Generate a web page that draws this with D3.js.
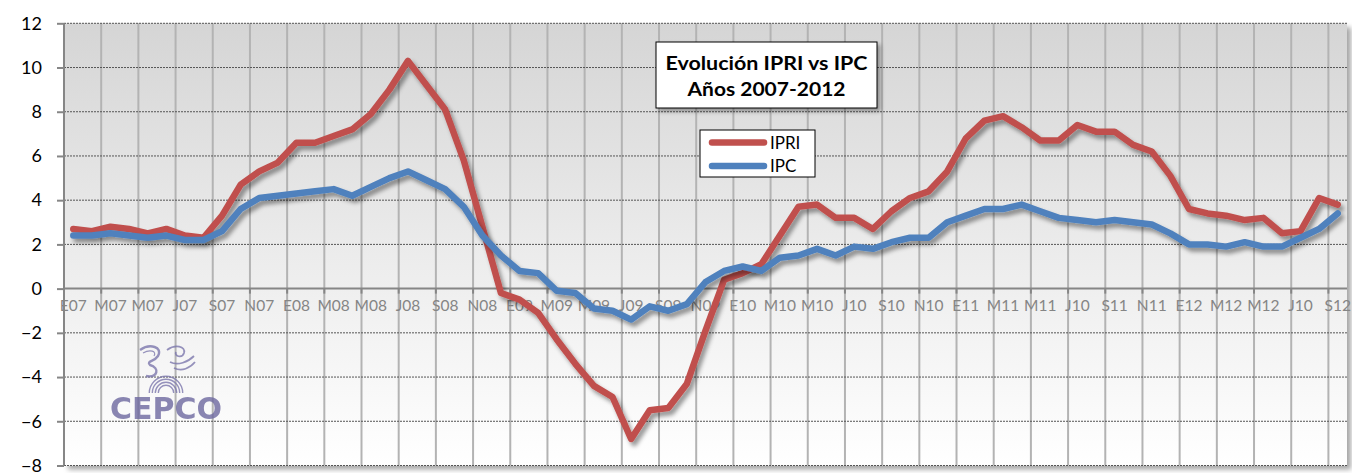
<!DOCTYPE html>
<html>
<head>
<meta charset="utf-8">
<script src="https://cdn.jsdelivr.net/npm/d3@7"></script>
<style>
  html, body { margin: 0; padding: 0; background: #fff; }
  svg { display: block; font-family: Lato, "Open Sans", sans-serif; }
</style>
</head>
<body>
<div class="chart"></div>
<script>
// monthly series, Jan 2007 .. Sep 2012 (69 months)
const ipri = [2.7, 2.6, 2.8, 2.7, 2.5, 2.7, 2.4, 2.3, 3.3, 4.7, 5.3, 5.7,
              6.6, 6.6, 6.9, 7.2, 7.9, 9.0, 10.3, 9.2, 8.1, 5.8, 2.8, -0.2,
              -0.5, -1.1, -2.3, -3.4, -4.4, -4.9, -6.8, -5.5, -5.4, -4.3, -1.9, 0.4,
              0.7, 1.1, 2.4, 3.7, 3.8, 3.2, 3.2, 2.7, 3.5, 4.1, 4.4, 5.3,
              6.8, 7.6, 7.8, 7.3, 6.7, 6.7, 7.4, 7.1, 7.1, 6.5, 6.2, 5.1,
              3.6, 3.4, 3.3, 3.1, 3.2, 2.5, 2.6, 4.1, 3.8];
const ipc = [2.4, 2.4, 2.5, 2.4, 2.3, 2.4, 2.2, 2.2, 2.6, 3.6, 4.1, 4.2,
             4.3, 4.4, 4.5, 4.2, 4.6, 5.0, 5.3, 4.9, 4.5, 3.7, 2.4, 1.5,
             0.8, 0.7, -0.1, -0.2, -0.9, -1.0, -1.4, -0.8, -1.0, -0.7, 0.3, 0.8,
             1.0, 0.8, 1.4, 1.5, 1.8, 1.5, 1.9, 1.8, 2.1, 2.3, 2.3, 3.0,
             3.3, 3.6, 3.6, 3.8, 3.5, 3.2, 3.1, 3.0, 3.1, 3.0, 2.9, 2.5,
             2.0, 2.0, 1.9, 2.1, 1.9, 1.9, 2.3, 2.7, 3.4];
// one label every two months (as printed on the original)
const tickLabels = ["E07", "M07", "M07", "J07", "S07", "N07",
                    "E08", "M08", "M08", "J08", "S08", "N08",
                    "E09", "M09", "M09", "J09", "S09", "N09",
                    "E10", "M10", "M10", "J10", "S10", "N10",
                    "E11", "M11", "M11", "J10", "S11", "N11",
                    "E12", "M12", "M12", "J10", "S12"];
const yTicks = [-8, -6, -4, -2, 0, 2, 4, 6, 8, 10, 12];
const seriesNames = ["IPRI", "IPC"];
const colors = ["#c0504d", "#4f81bd"];

const W = 1352, H = 473;
const pLeft = 64, pRight = 1347, pTop = 23.3, pBottom = 465.5;

const svg = d3.select(".chart").append("svg")
    .attr("width", W).attr("height", H);

const defs = svg.append("defs");
const grad = defs.append("linearGradient").attr("id", "bg")
    .attr("x1", 0).attr("y1", 0).attr("x2", 0).attr("y2", 1);
grad.append("stop").attr("offset", "0%").attr("stop-color", "#d5d5d5");
grad.append("stop").attr("offset", "55%").attr("stop-color", "#ededed");
grad.append("stop").attr("offset", "100%").attr("stop-color", "#ffffff");

const shadow = (id, dx, dy, sd, op) => {
    defs.append("filter").attr("id", id)
        .attr("x", "-10%").attr("y", "-10%").attr("width", "130%").attr("height", "130%")
        .append("feDropShadow")
        .attr("dx", dx).attr("dy", dy).attr("stdDeviation", sd)
        .attr("flood-color", "#000").attr("flood-opacity", op);
};
shadow("plotShadow", 4, 4, 2.5, 0.35);
shadow("lineShadow", 3, 4, 2.2, 0.4);
shadow("boxShadow", 3, 3, 2, 0.35);

const cats = d3.range(ipri.length);
const x = d3.scaleBand().domain(cats).range([pLeft, pRight]).padding(0);
const bw = x.bandwidth();
const cx = i => x(i) + bw / 2;
const y = d3.scaleLinear().domain([-8, 12]).range([pBottom, pTop]);

// plot area
svg.append("rect")
    .attr("x", pLeft).attr("y", pTop)
    .attr("width", pRight - pLeft).attr("height", pBottom - pTop)
    .attr("fill", "url(#bg)")
    .attr("filter", "url(#plotShadow)");

// vertical gridlines every two months
const vBounds = d3.range(2, ipri.length, 2);
svg.append("g").selectAll("line").data(vBounds).join("line")
    .attr("x1", d => x(d)).attr("x2", d => x(d))
    .attr("y1", pTop).attr("y2", pBottom)
    .attr("stroke", "#b3b3b3").attr("stroke-width", 2);

// horizontal dashed gridlines
svg.append("g").selectAll("line").data(yTicks.filter(d => d !== 0)).join("line")
    .attr("x1", pLeft).attr("x2", pRight)
    .attr("y1", d => y(d)).attr("y2", d => y(d))
    .attr("stroke", "#555").attr("stroke-width", 1)
    .attr("stroke-dasharray", "2,1");

// logo watermark
const logo = svg.append("g").attr("opacity", 0.8);
const lc = "#7d78ad";
[7, 10, 13, 16].forEach(r => {
    logo.append("path")
        .attr("d", d3.arc()({ innerRadius: r, outerRadius: r + 1.4, startAngle: -Math.PI / 2, endAngle: Math.PI / 2 }))
        .attr("transform", "translate(166,393)")
        .attr("fill", lc);
});
logo.append("path")
    .attr("d", "M140,350 C150,343 163,347 158,356 C154,362 146,361 150,365 C160,368 158,378 146,376")
    .attr("fill", "none").attr("stroke", lc).attr("stroke-width", 2.4);
logo.append("path")
    .attr("d", "M143,353 C150,349 157,351 154,356")
    .attr("fill", "none").attr("stroke", lc).attr("stroke-width", 1.2);
logo.append("path")
    .attr("d", "M167,350 C175,344 186,346 184,353 C182,359 174,356 176,352 M170,362 C178,366 188,362 194,356 M174,368 C182,372 190,368 195,362")
    .attr("fill", "none").attr("stroke", lc).attr("stroke-width", 1.8);
logo.append("text")
    .attr("x", 110).attr("y", 419)
    .attr("textLength", 112).attr("lengthAdjust", "spacingAndGlyphs")
    .attr("font-family", "DejaVu Sans").attr("font-weight", "bold")
    .attr("font-size", 30).attr("fill", "#6e69a0")
    .text("CEPCO");

// axes lines
svg.append("line")
    .attr("x1", pLeft).attr("x2", pLeft).attr("y1", pTop).attr("y2", pBottom)
    .attr("stroke", "#868686").attr("stroke-width", 2);
svg.append("line")
    .attr("x1", pLeft).attr("x2", pRight).attr("y1", y(0)).attr("y2", y(0))
    .attr("stroke", "#868686").attr("stroke-width", 2);

// y axis ticks + labels
const yAxis = d3.axisLeft(y).tickValues(yTicks).tickSize(7).tickPadding(15).tickFormat(d3.format("d"));
const gy = svg.append("g").attr("transform", `translate(${pLeft},0)`).call(yAxis);
gy.select(".domain").remove();
gy.selectAll(".tick line").attr("stroke", "#868686").attr("stroke-width", 2);
gy.selectAll(".tick text").attr("font-family", "Lato").attr("font-size", 18).attr("fill", "#000");

// x ticks at boundaries (below zero line)
svg.append("g").selectAll("line").data(d3.range(0, ipri.length, 2)).join("line")
    .attr("x1", d => x(d)).attr("x2", d => x(d))
    .attr("y1", y(0)).attr("y2", y(0) + 5)
    .attr("stroke", "#868686").attr("stroke-width", 2);

// x labels centered on every other month
svg.append("g").selectAll("text").data(tickLabels).join("text")
    .attr("x", (d, k) => cx(k * 2))
    .attr("y", y(0) + 22)
    .attr("text-anchor", "middle")
    .attr("font-size", 15.5)
    .attr("fill", "#858585")
    .text(d => d);

// lines
const line = d3.line().x((d, i) => cx(i)).y(d => y(d));
[ipri, ipc].forEach((s, k) => {
    svg.append("path")
        .datum(s)
        .attr("d", line)
        .attr("fill", "none")
        .attr("stroke", colors[k])
        .attr("stroke-width", 6.5)
        .attr("stroke-linejoin", "round")
        .attr("stroke-linecap", "round")
        .attr("filter", "url(#lineShadow)");
});

// title box
const tb = svg.append("g");
tb.append("rect")
    .attr("x", 656).attr("y", 42).attr("width", 221).attr("height", 66)
    .attr("fill", "#fff").attr("stroke", "#000").attr("stroke-width", 1)
    .attr("filter", "url(#boxShadow)");
tb.append("text").attr("x", 766.5).attr("y", 69.5)
    .attr("text-anchor", "middle").attr("font-weight", "bold").attr("font-size", 19.5)
    .attr("textLength", 202).attr("lengthAdjust", "spacingAndGlyphs")
    .text("Evolución IPRI vs IPC");
tb.append("text").attr("x", 766.5).attr("y", 95.5)
    .attr("text-anchor", "middle").attr("font-weight", "bold").attr("font-size", 19.5)
    .attr("textLength", 158).attr("lengthAdjust", "spacingAndGlyphs")
    .text("Años 2007-2012");

// legend
const lg = svg.append("g");
lg.append("rect")
    .attr("x", 700).attr("y", 130).attr("width", 115).attr("height", 47)
    .attr("fill", "#fff").attr("stroke", "#000").attr("stroke-width", 1);
seriesNames.forEach((n, k) => {
    const ly = 142.5 + k * 23.5;
    lg.append("line")
        .attr("x1", 712).attr("x2", 764).attr("y1", ly).attr("y2", ly)
        .attr("stroke", colors[k]).attr("stroke-width", 6.5).attr("stroke-linecap", "round");
    lg.append("text").attr("x", 770).attr("y", ly + 6)
        .attr("font-size", 17).attr("fill", "#000")
        .text(n);
});
</script>
</body>
</html>
